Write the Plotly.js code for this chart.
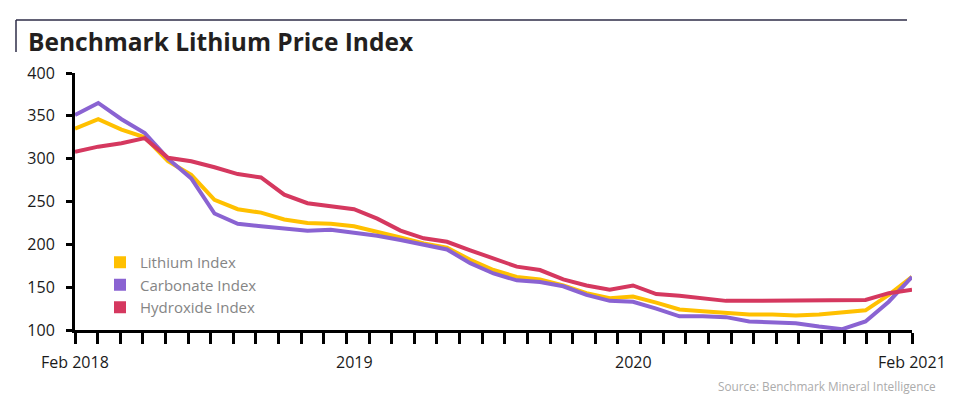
<!DOCTYPE html>
<html>
<head>
<meta charset="utf-8">
<script src="https://cdn.plot.ly/plotly-3.0.1.min.js"></script>
<style>
  html, body { margin: 0; padding: 0; background: #ffffff; }
  #chart { width: 965px; height: 405px; }
</style>
</head>
<body>
<div id="chart"></div>
<script>
// Monthly index values, Feb 2018 .. Feb 2021
const lithium = [335, 346, 334, 325, 297, 281, 252, 241, 237, 229, 225, 224, 221, 215, 208, 201, 196, 182, 170, 162, 159, 152, 143, 137, 139, 132, 124, 122, 120, 118, 118, 117, 118, 120, 123, 141, 162];
const carbonate = [351, 365, 346, 330, 300, 277, 236, 224, 221, 218, 216, 217, 214, 210, 205, 200, 194, 178, 166, 158, 156, 151, 141, 134, 133, 125, 116, 116, 115, 110, 109, 108, 104, 101, 110, 133, 162];
const hydroxide = [308, 314, 318, 324, 301, 297, 290, 282, 278, 258, 248, 245, 241, 230, 216, 207, 203, 193, 183, 174, 170, 159, 152, 147, 152, 142, 140, 137, 134, 134, 134, 134, 134, 135, 135, 143, 147];

const seriesNames = ['Lithium Index', 'Carbonate Index', 'Hydroxide Index'];
const seriesColors = ['#FFC000', '#8A63D2', '#D5385F'];

const xLabelText = ['Feb 2018', '2019', '2020', 'Feb 2021'];
const xLabelIndex = [0, 12, 24, 36];
const yTicks = [100, 150, 200, 250, 300, 350, 400];

const n = lithium.length;
const xIdx = lithium.map((_, i) => i);
const xMax = n - 1;
const nTicks = 38;
const xTickVals = [];
for (let k = 0; k < nTicks; k++) xTickVals.push(k * xMax / (nTicks - 1));

const FONT = '"Open Sans", "Noto Sans", sans-serif';

const lineTraces = [lithium, carbonate, hydroxide].map((ys, s) => ({
  type: 'scatter', mode: 'lines', x: xIdx, y: ys,
  line: { color: seriesColors[s], width: 4 },
  showlegend: false, hoverinfo: 'x+y', name: seriesNames[s]
}));
const legendTraces = seriesNames.map((nm, s) => ({
  type: 'scatter', mode: 'markers', x: [null], y: [null], name: nm,
  marker: { symbol: 'square', size: 12, color: seriesColors[s] },
  showlegend: true
}));

// Plot area pixel geometry helpers for paper coords
const L = 75, R = 53, T = 73, B = 75, W = 965, H = 405;
const pw = W - L - R, ph = H - T - B;
const px = v => (v - L) / pw;
const py = v => (H - B - v) / ph;

const annotations = xLabelText.map((t, i) => ({
  xref: 'x', yref: 'paper', x: xLabelIndex[i], y: py(362),
  text: t, showarrow: false, xanchor: 'center', yanchor: 'middle',
  font: { family: FONT, size: 16, color: '#1a1a1a' }
}));
annotations.push({
  xref: 'paper', yref: 'paper', x: px(938), y: py(386),
  text: 'Source: Benchmark Mineral Intelligence', showarrow: false,
  xanchor: 'right', yanchor: 'middle',
  font: { family: FONT, size: 11.8, color: '#ababab' }
});

const layout = {
  width: W, height: H,
  margin: { l: L, r: R, t: T, b: B },
  paper_bgcolor: '#ffffff', plot_bgcolor: '#ffffff',
  title: {
    text: '<b>Benchmark Lithium Price Index</b>',
    xref: 'container', yref: 'container', x: 28 / W, xanchor: 'left',
    y: 1 - 42 / H, yanchor: 'middle',
    font: { family: FONT, size: 24.5, color: '#231f20' }
  },
  xaxis: {
    range: [0, xMax], tickmode: 'array', tickvals: xTickVals,
    showticklabels: false, ticks: 'outside', ticklen: 11, tickwidth: 3, tickcolor: '#000',
    showline: true, linewidth: 3, linecolor: '#000', showgrid: false, zeroline: false,
    fixedrange: true
  },
  yaxis: {
    range: [100, 400], tickmode: 'array', tickvals: yTicks,
    ticks: 'outside', ticklen: 6, tickwidth: 3, tickcolor: '#000',
    ticklabelstandoff: 8,
    showline: true, linewidth: 3, linecolor: '#000', showgrid: false, zeroline: false,
    tickfont: { family: FONT, size: 16, color: '#1a1a1a' },
    fixedrange: true
  },
  legend: {
    x: px(100), y: py(246), xanchor: 'left', yanchor: 'top',
    bgcolor: 'rgba(0,0,0,0)', borderwidth: 0,
    font: { family: FONT, size: 15, color: '#858585' }
  },
  annotations: annotations,
  shapes: [
    { type: 'line', xref: 'paper', yref: 'paper', x0: px(16), x1: px(907), y0: py(20), y1: py(20),
      line: { color: '#2e2c47', width: 1.5 } },
    { type: 'line', xref: 'paper', yref: 'paper', x0: px(16), x1: px(16), y0: py(20), y1: py(52),
      line: { color: '#2e2c47', width: 1.5 } }
  ]
};

Plotly.newPlot('chart', lineTraces.concat(legendTraces), layout, { displayModeBar: false, staticPlot: true });
</script>
</body>
</html>
